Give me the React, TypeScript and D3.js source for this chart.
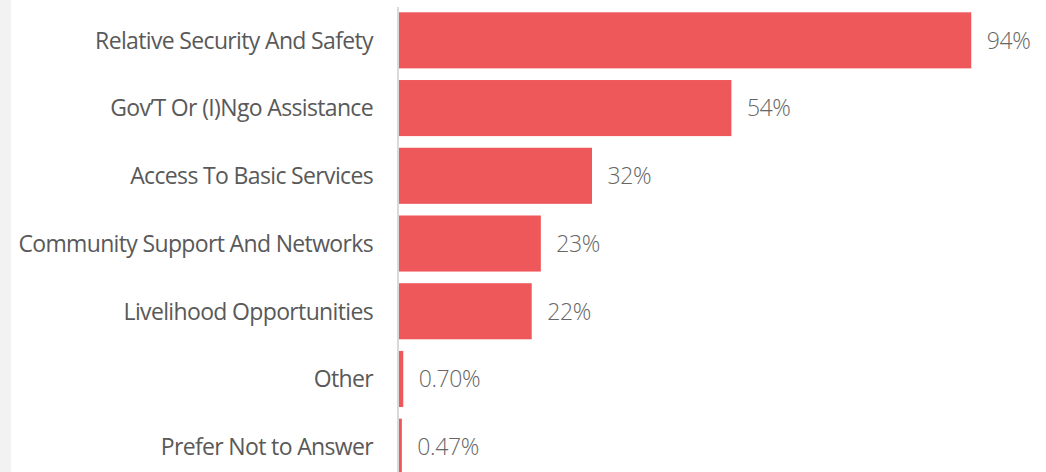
import React from "react";
import * as d3 from "d3";

const categories = [
  "Relative Security And Safety",
  "Gov’T Or (I)Ngo Assistance",
  "Access To Basic Services",
  "Community Support And Networks",
  "Livelihood Opportunities",
  "Other",
  "Prefer Not to Answer",
];
const values = [94.0, 54.6, 31.7, 23.3, 21.8, 0.7, 0.47];
const valueLabels = ["94%", "54%", "32%", "23%", "22%", "0.70%", "0.47%"];

const W = 1046;
const H = 472;

export default function App() {
  const x0 = 399;
  const x = d3.scaleLinear().domain([0, 100]).range([x0, x0 + 608.8]);
  const step = 67.73;
  const pi = 0.172;
  const po = 0.09;
  const r0 = 6.2;
  const y = d3
    .scaleBand<string>()
    .domain(categories)
    .range([r0, r0 + step * (categories.length - pi + 2 * po)])
    .paddingInner(pi)
    .paddingOuter(po);

  const font = "'Open Sans', 'Noto Sans', sans-serif";
  return (
    <svg
      width={W}
      height={H}
      style={{ position: "absolute", left: 0, top: 0, background: "#fff" }}
    >
      <rect x={0} y={0} width={11} height={H} fill="#f2f2f2" />
      {categories.map((c, i) => {
        const yy = y(c)!;
        const bw = y.bandwidth();
        const cy = yy + bw / 2;
        return (
          <g key={c}>
            <rect
              x={x(0)}
              y={yy}
              width={Math.max(0, x(values[i]) - x(0))}
              height={bw}
              fill="#EF585A"
            />
            <text
              x={373}
              y={cy}
              dy="0.36em"
              textAnchor="end"
              fontFamily={font}
              fontSize={23}
              letterSpacing={-0.65}
              fill="#595959"
            >
              {c}
            </text>
            <text
              x={x(values[i]) + 15.5}
              y={cy}
              dy="0.36em"
              fontFamily={font}
              fontSize={23}
              fontWeight={300}
              letterSpacing={-0.4}
              fill="#666666"
            >
              {valueLabels[i]}
            </text>
          </g>
        );
      })}
      <line x1={398} x2={398} y1={7} y2={H} stroke="#d9d9d9" strokeWidth={2} />
    </svg>
  );
}
